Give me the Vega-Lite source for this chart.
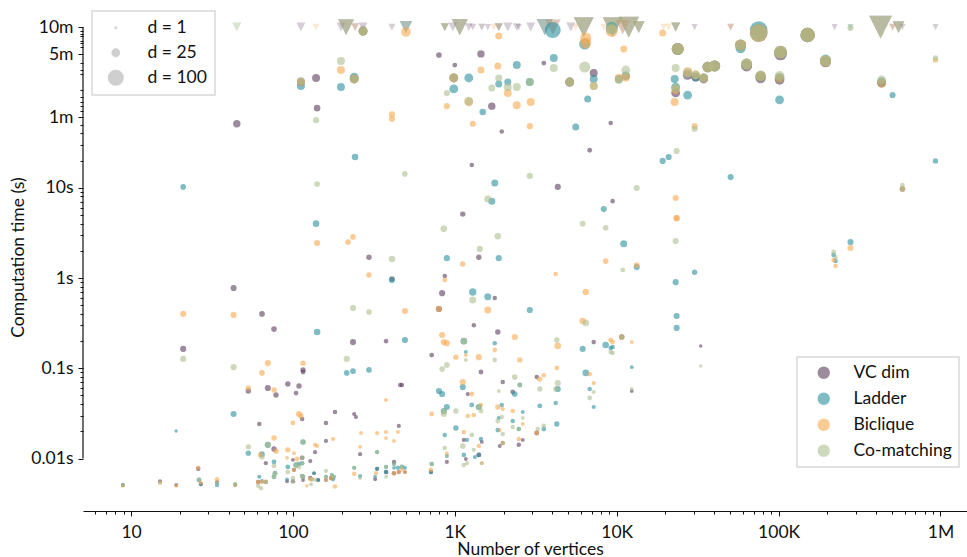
{"$schema":"https://vega.github.io/schema/vega-lite/v6.json","autosize":{"type":"none"},"padding":{"left":83,"top":8,"right":0,"bottom":46},"width":884,"height":503,"background":"white","view":{"stroke":null},"config":{"font":"Lato","axis":{"labelFont":"Lato","titleFont":"Lato","labelFontSize":17.5,"titleFontSize":17.5,"labelColor":"#111","titleColor":"#111","titleFontWeight":"normal","grid":false,"domainColor":"#111","tickColor":"#111","domainWidth":1.2,"tickWidth":1},"legend":{"labelFont":"Lato","labelFontSize":17.5,"labelColor":"#111","strokeColor":"#d7d7d7","strokeWidth":1.5,"fillColor":"#ffffff"}},
"datasets":{"axisline":[{"n":5.05,"t":0.01,"t2":600}],
"timeouts":[
{"m":"VC dim","n":112,"t":600,"d":20},{"m":"VC dim","n":198,"t":600,"d":20},{"m":"VC dim","n":213,"t":600,"d":76},{"m":"VC dim","n":242,"t":600,"d":15},{"m":"VC dim","n":271,"t":600,"d":20},{"m":"VC dim","n":409,"t":600,"d":11},{"m":"VC dim","n":499,"t":600,"d":44},{"m":"VC dim","n":867,"t":600,"d":15},{"m":"VC dim","n":972,"t":600,"d":20},{"m":"VC dim","n":1073,"t":600,"d":79},{"m":"VC dim","n":1220,"t":600,"d":15},{"m":"VC dim","n":1291,"t":600,"d":11},{"m":"VC dim","n":1468,"t":600,"d":11},{"m":"VC dim","n":1598,"t":600,"d":8},{"m":"VC dim","n":1868,"t":600,"d":15},{"m":"VC dim","n":2124,"t":600,"d":20},{"m":"VC dim","n":2414,"t":600,"d":15},{"m":"VC dim","n":2483,"t":600,"d":8},{"m":"VC dim","n":2945,"t":600,"d":20},{"m":"VC dim","n":3594,"t":600,"d":79},{"m":"VC dim","n":4027,"t":600,"d":69},{"m":"VC dim","n":5200,"t":600,"d":20},{"m":"VC dim","n":6255,"t":600,"d":123},{"m":"VC dim","n":9440,"t":600,"d":123},{"m":"VC dim","n":10900,"t":600,"d":60},{"m":"VC dim","n":11860,"t":600,"d":136},{"m":"VC dim","n":13680,"t":600,"d":37},{"m":"VC dim","n":23130,"t":600,"d":20},{"m":"VC dim","n":30290,"t":600,"d":8},{"m":"VC dim","n":50550,"t":600,"d":11},{"m":"VC dim","n":221800,"t":600,"d":8},{"m":"VC dim","n":426600,"t":600,"d":163},{"m":"VC dim","n":505800,"t":600,"d":11},{"m":"VC dim","n":550800,"t":600,"d":37},{"m":"VC dim","n":582100,"t":600,"d":8},{"m":"VC dim","n":931100,"t":600,"d":8},
{"m":"Ladder","n":213,"t":600,"d":76},{"m":"Ladder","n":499,"t":600,"d":44},{"m":"Ladder","n":867,"t":600,"d":15},{"m":"Ladder","n":1073,"t":600,"d":79},{"m":"Ladder","n":1868,"t":600,"d":15},{"m":"Ladder","n":3594,"t":600,"d":79},{"m":"Ladder","n":6255,"t":600,"d":123},{"m":"Ladder","n":9440,"t":600,"d":123},{"m":"Ladder","n":11860,"t":600,"d":136},{"m":"Ladder","n":13680,"t":600,"d":37},{"m":"Ladder","n":23130,"t":600,"d":20},{"m":"Ladder","n":278000,"t":600,"d":8},{"m":"Ladder","n":426600,"t":600,"d":163},{"m":"Ladder","n":550800,"t":600,"d":37},
{"m":"Biclique","n":139,"t":600,"d":11},{"m":"Biclique","n":213,"t":600,"d":76},{"m":"Biclique","n":242,"t":600,"d":15},{"m":"Biclique","n":867,"t":600,"d":15},{"m":"Biclique","n":1073,"t":600,"d":79},{"m":"Biclique","n":1740,"t":600,"d":11},{"m":"Biclique","n":1868,"t":600,"d":15},{"m":"Biclique","n":4027,"t":600,"d":69},{"m":"Biclique","n":5585,"t":600,"d":11},{"m":"Biclique","n":6255,"t":600,"d":123},{"m":"Biclique","n":8320,"t":600,"d":11},{"m":"Biclique","n":9440,"t":600,"d":123},{"m":"Biclique","n":10900,"t":600,"d":60},{"m":"Biclique","n":11860,"t":600,"d":136},{"m":"Biclique","n":13680,"t":600,"d":37},{"m":"Biclique","n":19500,"t":600,"d":11},{"m":"Biclique","n":20940,"t":600,"d":11},{"m":"Biclique","n":23130,"t":600,"d":20},{"m":"Biclique","n":50550,"t":600,"d":11},{"m":"Biclique","n":426600,"t":600,"d":163},{"m":"Biclique","n":505800,"t":600,"d":11},{"m":"Biclique","n":550800,"t":600,"d":37},
{"m":"Co-matching","n":45,"t":600,"d":20},{"m":"Co-matching","n":45,"t":600,"d":20},{"m":"Co-matching","n":213,"t":600,"d":76},{"m":"Co-matching","n":499,"t":600,"d":44},{"m":"Co-matching","n":867,"t":600,"d":15},{"m":"Co-matching","n":1073,"t":600,"d":79},{"m":"Co-matching","n":1468,"t":600,"d":11},{"m":"Co-matching","n":3594,"t":600,"d":79},{"m":"Co-matching","n":6255,"t":600,"d":123},{"m":"Co-matching","n":9440,"t":600,"d":123},{"m":"Co-matching","n":11860,"t":600,"d":136},{"m":"Co-matching","n":13680,"t":600,"d":37},{"m":"Co-matching","n":23130,"t":600,"d":20},{"m":"Co-matching","n":278000,"t":600,"d":8},{"m":"Co-matching","n":426600,"t":600,"d":163},{"m":"Co-matching","n":550800,"t":600,"d":37}
],
"finished":[
{"m":"VC dim","n":45,"t":51,"d":17},{"m":"VC dim","n":139,"t":164,"d":20},{"m":"VC dim","n":141,"t":76,"d":13},{"m":"VC dim","n":798,"t":295,"d":9},{"m":"VC dim","n":1000,"t":228,"d":6},{"m":"VC dim","n":1450,"t":303,"d":17},{"m":"VC dim","n":1273,"t":17.8,"d":5},{"m":"VC dim","n":1120,"t":5.1,"d":8},{"m":"VC dim","n":295,"t":1.7,"d":8},{"m":"VC dim","n":1407,"t":1.7,"d":8},{"m":"VC dim","n":867,"t":1.05,"d":5},{"m":"VC dim","n":409,"t":0.975,"d":8},{"m":"VC dim","n":1692,"t":80,"d":17},{"m":"VC dim","n":1950,"t":42,"d":5},{"m":"VC dim","n":3545,"t":240,"d":6},{"m":"VC dim","n":9180,"t":52,"d":5},{"m":"VC dim","n":7210,"t":186,"d":20},{"m":"VC dim","n":6810,"t":26,"d":6},{"m":"VC dim","n":4325,"t":10.2,"d":11},{"m":"VC dim","n":9440,"t":7.1,"d":5},{"m":"VC dim","n":1843,"t":0.252,"d":8},{"m":"VC dim","n":1765,"t":0.6,"d":5},{"m":"VC dim","n":835,"t":0.68,"d":11},{"m":"VC dim","n":798,"t":0.454,"d":11},{"m":"VC dim","n":1310,"t":0.3,"d":5},{"m":"VC dim","n":1450,"t":0.091,"d":6},{"m":"VC dim","n":720,"t":0.14,"d":6},{"m":"VC dim","n":3206,"t":0.08,"d":5},{"m":"VC dim","n":1978,"t":0.0705,"d":5},{"m":"VC dim","n":1203,"t":0.0519,"d":4},{"m":"VC dim","n":2280,"t":0.0547,"d":6},{"m":"VC dim","n":7210,"t":0.195,"d":5},{"m":"VC dim","n":12390,"t":0.056,"d":3},{"m":"VC dim","n":33010,"t":0.177,"d":2},{"m":"VC dim","n":2628,"t":0.0161,"d":3},{"m":"VC dim","n":1895,"t":0.0138,"d":3},{"m":"VC dim","n":2483,"t":0.0142,"d":5},{"m":"VC dim","n":3206,"t":0.0192,"d":6},{"m":"VC dim","n":1137,"t":0.0161,"d":4},{"m":"VC dim","n":1468,"t":0.0153,"d":3},{"m":"VC dim","n":893,"t":0.0092,"d":4},{"m":"VC dim","n":1170,"t":0.0099,"d":3},{"m":"VC dim","n":1407,"t":0.011,"d":6},{"m":"VC dim","n":712,"t":0.0071,"d":4},{"m":"VC dim","n":43,"t":0.775,"d":11},{"m":"VC dim","n":64.4,"t":0.4,"d":9},{"m":"VC dim","n":76.4,"t":0.272,"d":9},{"m":"VC dim","n":21,"t":0.164,"d":11},{"m":"VC dim","n":235,"t":0.195,"d":11},{"m":"VC dim","n":376,"t":0.2,"d":5},{"m":"VC dim","n":471,"t":0.0653,"d":5},{"m":"VC dim","n":460,"t":0.0653,"d":5},{"m":"VC dim","n":115.5,"t":0.096,"d":8},{"m":"VC dim","n":115.5,"t":0.091,"d":6},{"m":"VC dim","n":93,"t":0.067,"d":8},{"m":"VC dim","n":109,"t":0.0637,"d":8},{"m":"VC dim","n":104.5,"t":0.0532,"d":6},{"m":"VC dim","n":53,"t":0.056,"d":8},{"m":"VC dim","n":70,"t":0.0605,"d":11},{"m":"VC dim","n":78.6,"t":0.0506,"d":8},{"m":"VC dim","n":114,"t":0.0275,"d":5},{"m":"VC dim","n":62,"t":0.0242,"d":5},{"m":"VC dim","n":160,"t":0.0248,"d":5},{"m":"VC dim","n":182,"t":0.0328,"d":5},{"m":"VC dim","n":239,"t":0.0312,"d":4},{"m":"VC dim","n":245,"t":0.0289,"d":4},{"m":"VC dim","n":451,"t":0.023,"d":4},{"m":"VC dim","n":160,"t":0.0157,"d":4},{"m":"VC dim","n":76.4,"t":0.0128,"d":8},{"m":"VC dim","n":137,"t":0.0118,"d":4},{"m":"VC dim","n":260,"t":0.0112,"d":4},{"m":"VC dim","n":100,"t":0.0097,"d":3},{"m":"VC dim","n":114,"t":0.0102,"d":6},{"m":"VC dim","n":128,"t":0.0094,"d":4},{"m":"VC dim","n":68,"t":0.0089,"d":4},{"m":"VC dim","n":101.5,"t":0.0075,"d":4},{"m":"VC dim","n":135,"t":0.0069,"d":2},{"m":"VC dim","n":8.9,"t":0.0051,"d":3},{"m":"VC dim","n":15.1,"t":0.0056,"d":4},{"m":"VC dim","n":19,"t":0.0051,"d":3},{"m":"VC dim","n":26,"t":0.0077,"d":5},{"m":"VC dim","n":27,"t":0.0052,"d":3},{"m":"VC dim","n":34,"t":0.0055,"d":4},{"m":"VC dim","n":44,"t":0.0051,"d":3},{"m":"VC dim","n":61,"t":0.0055,"d":5},{"m":"VC dim","n":68,"t":0.0055,"d":4},{"m":"VC dim","n":92,"t":0.0056,"d":3},{"m":"VC dim","n":100,"t":0.0056,"d":5},{"m":"VC dim","n":115.5,"t":0.0058,"d":3},{"m":"VC dim","n":128,"t":0.0061,"d":5},{"m":"VC dim","n":143,"t":0.0058,"d":4},{"m":"VC dim","n":160,"t":0.0058,"d":3},{"m":"VC dim","n":172,"t":0.0061,"d":5},{"m":"VC dim","n":331,"t":0.0077,"d":4},{"m":"VC dim","n":322,"t":0.0059,"d":3},{"m":"VC dim","n":376,"t":0.0071,"d":5},{"m":"VC dim","n":421,"t":0.0092,"d":5},{"m":"VC dim","n":421,"t":0.0069,"d":5},{"m":"VC dim","n":451,"t":0.0071,"d":4},{"m":"VC dim","n":492,"t":0.0071,"d":3},
{"m":"VC dim","n":112,"t":148,"d":20},{"m":"VC dim","n":239,"t":160,"d":25},{"m":"VC dim","n":271,"t":543,"d":25},{"m":"VC dim","n":985,"t":164,"d":25},{"m":"VC dim","n":5125,"t":148,"d":25},{"m":"VC dim","n":23800,"t":344,"d":52},{"m":"VC dim","n":27420,"t":177,"d":31},{"m":"VC dim","n":30760,"t":168,"d":25},{"m":"VC dim","n":34450,"t":160,"d":25},{"m":"VC dim","n":36480,"t":217,"d":37},{"m":"VC dim","n":40270,"t":223,"d":44},{"m":"VC dim","n":58250,"t":380,"d":44},{"m":"VC dim","n":63440,"t":223,"d":44},{"m":"VC dim","n":75330,"t":517,"d":123},{"m":"VC dim","n":77430,"t":164,"d":37},{"m":"VC dim","n":102800,"t":303,"d":60},{"m":"VC dim","n":101400,"t":156,"d":31},{"m":"VC dim","n":151100,"t":491,"d":79},{"m":"VC dim","n":195000,"t":248,"d":44},{"m":"VC dim","n":432500,"t":144,"d":25},{"m":"VC dim","n":10740,"t":0.222,"d":8},{"m":"VC dim","n":582100,"t":9.7,"d":8},{"m":"VC dim","n":23130,"t":112,"d":25},
{"m":"Ladder","n":21,"t":10.2,"d":9},{"m":"Ladder","n":112,"t":134,"d":20},{"m":"Ladder","n":198,"t":130,"d":20},{"m":"Ladder","n":239,"t":168,"d":25},{"m":"Ladder","n":242,"t":21.9,"d":13},{"m":"Ladder","n":139,"t":4,"d":13},{"m":"Ladder","n":893,"t":1.66,"d":11},{"m":"Ladder","n":409,"t":0.95,"d":11},{"m":"Ladder","n":1220,"t":164,"d":25},{"m":"Ladder","n":985,"t":124,"d":25},{"m":"Ladder","n":2414,"t":228,"d":20},{"m":"Ladder","n":1868,"t":141,"d":15},{"m":"Ladder","n":2124,"t":148,"d":15},{"m":"Ladder","n":2904,"t":148,"d":20},{"m":"Ladder","n":1487,"t":69,"d":13},{"m":"Ladder","n":4085,"t":273,"d":20},{"m":"Ladder","n":4027,"t":557,"d":100},{"m":"Ladder","n":5585,"t":47,"d":15},{"m":"Ladder","n":6620,"t":96,"d":15},{"m":"Ladder","n":6345,"t":390,"d":44},{"m":"Ladder","n":7210,"t":160,"d":20},{"m":"Ladder","n":9310,"t":587,"d":52},{"m":"Ladder","n":10300,"t":160,"d":20},{"m":"Ladder","n":11370,"t":173,"d":25},{"m":"Ladder","n":22800,"t":160,"d":20},{"m":"Ladder","n":23130,"t":130,"d":25},{"m":"Ladder","n":27420,"t":106,"d":25},{"m":"Ladder","n":30760,"t":168,"d":25},{"m":"Ladder","n":58250,"t":352,"d":37},{"m":"Ladder","n":75330,"t":557,"d":123},{"m":"Ladder","n":101400,"t":94,"d":25},{"m":"Ladder","n":505800,"t":106,"d":11},{"m":"Ladder","n":931100,"t":19.8,"d":8},{"m":"Ladder","n":20940,"t":21.9,"d":11},{"m":"Ladder","n":19230,"t":19.8,"d":11},{"m":"Ladder","n":50550,"t":13.1,"d":11},{"m":"Ladder","n":1765,"t":11.3,"d":15},{"m":"Ladder","n":1692,"t":7.1,"d":15},{"m":"Ladder","n":8320,"t":5.8,"d":11},{"m":"Ladder","n":11050,"t":2.4,"d":15},{"m":"Ladder","n":1868,"t":1.66,"d":11},{"m":"Ladder","n":13290,"t":1.32,"d":11},{"m":"Ladder","n":30290,"t":1.16,"d":8},{"m":"Ladder","n":23130,"t":0.9,"d":11},{"m":"Ladder","n":23450,"t":0.38,"d":11},{"m":"Ladder","n":23450,"t":0.28,"d":11},{"m":"Ladder","n":278000,"t":2.5,"d":11},{"m":"Ladder","n":218800,"t":1.8,"d":6},{"m":"Ladder","n":224900,"t":1.54,"d":5},{"m":"Ladder","n":1598,"t":0.62,"d":15},{"m":"Ladder","n":2904,"t":0.442,"d":11},{"m":"Ladder","n":1291,"t":0.7,"d":17},{"m":"Ladder","n":1137,"t":0.2,"d":13},{"m":"Ladder","n":1765,"t":0.19,"d":5},{"m":"Ladder","n":1170,"t":0.152,"d":3},{"m":"Ladder","n":1120,"t":0.062,"d":11},{"m":"Ladder","n":798,"t":0.056,"d":11},{"m":"Ladder","n":835,"t":0.0519,"d":11},{"m":"Ladder","n":141,"t":0.252,"d":13},{"m":"Ladder","n":492,"t":0.206,"d":11},{"m":"Ladder","n":215,"t":0.089,"d":9},{"m":"Ladder","n":235,"t":0.093,"d":9},{"m":"Ladder","n":295,"t":0.096,"d":9},{"m":"Ladder","n":43,"t":0.0312,"d":11},{"m":"Ladder","n":19,"t":0.0202,"d":2},{"m":"Ladder","n":8550,"t":0.181,"d":13},{"m":"Ladder","n":6166,"t":0.164,"d":11},{"m":"Ladder","n":9440,"t":0.172,"d":5},{"m":"Ladder","n":9180,"t":0.168,"d":5},{"m":"Ladder","n":12390,"t":0.103,"d":3},{"m":"Ladder","n":6440,"t":0.089,"d":13},{"m":"Ladder","n":2345,"t":0.0519,"d":9},{"m":"Ladder","n":2520,"t":0.0653,"d":6},{"m":"Ladder","n":4325,"t":0.059,"d":11},{"m":"Ladder","n":6810,"t":0.059,"d":5},{"m":"Ladder","n":4200,"t":0.0413,"d":5},{"m":"Ladder","n":3347,"t":0.0383,"d":6},{"m":"Ladder","n":1950,"t":0.0393,"d":5},{"m":"Ladder","n":7210,"t":0.0373,"d":4},{"m":"Ladder","n":2628,"t":0.0328,"d":3},{"m":"Ladder","n":1868,"t":0.0282,"d":3},{"m":"Ladder","n":2280,"t":0.0261,"d":5},{"m":"Ladder","n":4265,"t":0.0242,"d":8},{"m":"Ladder","n":2483,"t":0.0213,"d":5},{"m":"Ladder","n":3545,"t":0.0213,"d":6},{"m":"Ladder","n":1843,"t":0.0207,"d":6},{"m":"Ladder","n":1978,"t":0.0149,"d":5},{"m":"Ladder","n":893,"t":0.0373,"d":11},{"m":"Ladder","n":855,"t":0.0337,"d":11},{"m":"Ladder","n":1273,"t":0.0393,"d":6},{"m":"Ladder","n":1407,"t":0.0373,"d":11},{"m":"Ladder","n":1015,"t":0.0218,"d":8},{"m":"Ladder","n":867,"t":0.0183,"d":5},{"m":"Ladder","n":1190,"t":0.0161,"d":4},{"m":"Ladder","n":1450,"t":0.0165,"d":5},{"m":"Ladder","n":1137,"t":0.011,"d":5},{"m":"Ladder","n":1407,"t":0.011,"d":5},{"m":"Ladder","n":1330,"t":0.0104,"d":4},{"m":"Ladder","n":893,"t":0.0107,"d":3},{"m":"Ladder","n":720,"t":0.0087,"d":5},{"m":"Ladder","n":712,"t":0.0071,"d":5},{"m":"Ladder","n":53,"t":0.0115,"d":8},{"m":"Ladder","n":70,"t":0.0142,"d":11},{"m":"Ladder","n":64.4,"t":0.0112,"d":9},{"m":"Ladder","n":115.5,"t":0.0153,"d":8},{"m":"Ladder","n":331,"t":0.0118,"d":4},{"m":"Ladder","n":76.4,"t":0.0092,"d":6},{"m":"Ladder","n":93,"t":0.0081,"d":6},{"m":"Ladder","n":104.5,"t":0.0085,"d":8},{"m":"Ladder","n":109,"t":0.0087,"d":5},{"m":"Ladder","n":114,"t":0.0089,"d":5},{"m":"Ladder","n":135,"t":0.0069,"d":3},{"m":"Ladder","n":8.9,"t":0.0051,"d":3},{"m":"Ladder","n":26.3,"t":0.0058,"d":6},{"m":"Ladder","n":27,"t":0.0052,"d":3},{"m":"Ladder","n":34,"t":0.0051,"d":5},{"m":"Ladder","n":44,"t":0.0052,"d":3},{"m":"Ladder","n":62,"t":0.0063,"d":4},{"m":"Ladder","n":64.4,"t":0.0056,"d":5},{"m":"Ladder","n":77.5,"t":0.0069,"d":6},{"m":"Ladder","n":76.4,"t":0.0063,"d":6},{"m":"Ladder","n":92,"t":0.0059,"d":3},{"m":"Ladder","n":114,"t":0.0064,"d":5},{"m":"Ladder","n":115.5,"t":0.0063,"d":5},{"m":"Ladder","n":143,"t":0.0058,"d":4},{"m":"Ladder","n":160,"t":0.0063,"d":4},{"m":"Ladder","n":177,"t":0.0059,"d":4},{"m":"Ladder","n":179,"t":0.0063,"d":4},{"m":"Ladder","n":174,"t":0.0066,"d":3},{"m":"Ladder","n":239,"t":0.0079,"d":4},{"m":"Ladder","n":260,"t":0.0064,"d":4},{"m":"Ladder","n":331,"t":0.0077,"d":4},{"m":"Ladder","n":322,"t":0.0063,"d":3},{"m":"Ladder","n":376,"t":0.0081,"d":4},{"m":"Ladder","n":376,"t":0.0071,"d":5},{"m":"Ladder","n":421,"t":0.0087,"d":4},{"m":"Ladder","n":421,"t":0.0079,"d":3},{"m":"Ladder","n":445,"t":0.0079,"d":5},{"m":"Ladder","n":471,"t":0.0081,"d":5},{"m":"Ladder","n":492,"t":0.0079,"d":4},
{"m":"Ladder","n":271,"t":543,"d":25},{"m":"Ladder","n":5125,"t":148,"d":25},{"m":"Ladder","n":23800,"t":344,"d":52},{"m":"Ladder","n":36480,"t":217,"d":37},{"m":"Ladder","n":40270,"t":223,"d":44},{"m":"Ladder","n":34450,"t":164,"d":25},{"m":"Ladder","n":63440,"t":234,"d":44},{"m":"Ladder","n":77430,"t":173,"d":37},{"m":"Ladder","n":102800,"t":318,"d":60},{"m":"Ladder","n":101400,"t":164,"d":31},{"m":"Ladder","n":151100,"t":491,"d":79},{"m":"Ladder","n":195000,"t":259,"d":44},{"m":"Ladder","n":432500,"t":148,"d":25},
{"m":"Biclique","n":112,"t":148,"d":20},{"m":"Biclique","n":198,"t":201,"d":20},{"m":"Biclique","n":239,"t":160,"d":25},{"m":"Biclique","n":271,"t":543,"d":25},{"m":"Biclique","n":499,"t":530,"d":31},{"m":"Biclique","n":409,"t":65,"d":11},{"m":"Biclique","n":409,"t":58,"d":11},{"m":"Biclique","n":141,"t":2.44,"d":11},{"m":"Biclique","n":219,"t":2.5,"d":9},{"m":"Biclique","n":235,"t":2.85,"d":9},{"m":"Biclique","n":1120,"t":1.43,"d":8},{"m":"Biclique","n":295,"t":1.08,"d":8},{"m":"Biclique","n":1868,"t":479,"d":15},{"m":"Biclique","n":1843,"t":223,"d":15},{"m":"Biclique","n":1450,"t":201,"d":15},{"m":"Biclique","n":893,"t":80,"d":11},{"m":"Biclique","n":1220,"t":89,"d":25},{"m":"Biclique","n":2124,"t":112,"d":20},{"m":"Biclique","n":2414,"t":82,"d":20},{"m":"Biclique","n":2945,"t":89,"d":20},{"m":"Biclique","n":1291,"t":51,"d":11},{"m":"Biclique","n":2904,"t":48,"d":11},{"m":"Biclique","n":6440,"t":455,"d":44},{"m":"Biclique","n":6440,"t":400,"d":44},{"m":"Biclique","n":7210,"t":134,"d":20},{"m":"Biclique","n":985,"t":164,"d":25},{"m":"Biclique","n":9310,"t":543,"d":52},{"m":"Biclique","n":10300,"t":164,"d":20},{"m":"Biclique","n":11050,"t":344,"d":15},{"m":"Biclique","n":11370,"t":168,"d":25},{"m":"Biclique","n":19230,"t":517,"d":15},{"m":"Biclique","n":22800,"t":89,"d":20},{"m":"Biclique","n":23130,"t":121,"d":25},{"m":"Biclique","n":30290,"t":48,"d":11},{"m":"Biclique","n":931100,"t":259,"d":8},{"m":"Biclique","n":23130,"t":7.7,"d":11},{"m":"Biclique","n":23450,"t":4.6,"d":11},{"m":"Biclique","n":23450,"t":4.6,"d":11},{"m":"Biclique","n":8550,"t":1.54,"d":9},{"m":"Biclique","n":13290,"t":1.39,"d":9},{"m":"Biclique","n":4200,"t":1.11,"d":5},{"m":"Biclique","n":278000,"t":2.15,"d":11},{"m":"Biclique","n":218800,"t":1.58,"d":6},{"m":"Biclique","n":224900,"t":1.36,"d":5},{"m":"Biclique","n":582100,"t":9.7,"d":8},{"m":"Biclique","n":867,"t":0.95,"d":6},{"m":"Biclique","n":1598,"t":0.442,"d":15},{"m":"Biclique","n":6440,"t":0.7,"d":13},{"m":"Biclique","n":6166,"t":0.334,"d":13},{"m":"Biclique","n":2345,"t":0.222,"d":11},{"m":"Biclique","n":4325,"t":0.177,"d":13},{"m":"Biclique","n":9180,"t":0.206,"d":6},{"m":"Biclique","n":9440,"t":0.195,"d":6},{"m":"Biclique","n":12390,"t":0.195,"d":3},{"m":"Biclique","n":10740,"t":0.222,"d":8},{"m":"Biclique","n":835,"t":0.234,"d":11},{"m":"Biclique","n":855,"t":0.195,"d":11},{"m":"Biclique","n":893,"t":0.19,"d":11},{"m":"Biclique","n":1170,"t":0.14,"d":3},{"m":"Biclique","n":1765,"t":0.16,"d":5},{"m":"Biclique","n":1407,"t":0.133,"d":11},{"m":"Biclique","n":1015,"t":0.133,"d":8},{"m":"Biclique","n":2520,"t":0.124,"d":8},{"m":"Biclique","n":4265,"t":0.101,"d":6},{"m":"Biclique","n":3347,"t":0.076,"d":8},{"m":"Biclique","n":3545,"t":0.084,"d":5},{"m":"Biclique","n":6810,"t":0.0865,"d":5},{"m":"Biclique","n":7210,"t":0.0687,"d":4},{"m":"Biclique","n":1120,"t":0.0705,"d":11},{"m":"Biclique","n":1273,"t":0.0519,"d":6},{"m":"Biclique","n":1843,"t":0.0373,"d":8},{"m":"Biclique","n":1978,"t":0.0354,"d":4},{"m":"Biclique","n":2280,"t":0.0337,"d":5},{"m":"Biclique","n":2628,"t":0.0242,"d":3},{"m":"Biclique","n":1895,"t":0.0207,"d":3},{"m":"Biclique","n":3206,"t":0.0192,"d":6},{"m":"Biclique","n":2483,"t":0.0165,"d":5},{"m":"Biclique","n":1978,"t":0.0149,"d":5},{"m":"Biclique","n":720,"t":0.0312,"d":6},{"m":"Biclique","n":1203,"t":0.0296,"d":5},{"m":"Biclique","n":1310,"t":0.0304,"d":5},{"m":"Biclique","n":1450,"t":0.0393,"d":5},{"m":"Biclique","n":1137,"t":0.0197,"d":5},{"m":"Biclique","n":1407,"t":0.0138,"d":5},{"m":"Biclique","n":893,"t":0.0115,"d":3},{"m":"Biclique","n":1468,"t":0.0089,"d":3},{"m":"Biclique","n":712,"t":0.0075,"d":6},{"m":"Biclique","n":798,"t":0.454,"d":11},{"m":"Biclique","n":21,"t":0.4,"d":11},{"m":"Biclique","n":43,"t":0.39,"d":11},{"m":"Biclique","n":492,"t":0.43,"d":11},{"m":"Biclique","n":70,"t":0.114,"d":11},{"m":"Biclique","n":64.4,"t":0.089,"d":9},{"m":"Biclique","n":115.5,"t":0.114,"d":8},{"m":"Biclique","n":53,"t":0.0605,"d":8},{"m":"Biclique","n":76.4,"t":0.0575,"d":8},{"m":"Biclique","n":109,"t":0.0312,"d":11},{"m":"Biclique","n":112,"t":0.0296,"d":8},{"m":"Biclique","n":100,"t":0.0248,"d":6},{"m":"Biclique","n":376,"t":0.0446,"d":3},{"m":"Biclique","n":331,"t":0.0192,"d":4},{"m":"Biclique","n":376,"t":0.0197,"d":4},{"m":"Biclique","n":445,"t":0.0197,"d":3},{"m":"Biclique","n":263,"t":0.0192,"d":3},{"m":"Biclique","n":177,"t":0.0165,"d":4},{"m":"Biclique","n":376,"t":0.0169,"d":3},{"m":"Biclique","n":421,"t":0.0157,"d":3},{"m":"Biclique","n":76.4,"t":0.0169,"d":8},{"m":"Biclique","n":63,"t":0.011,"d":8},{"m":"Biclique","n":78.6,"t":0.0121,"d":8},{"m":"Biclique","n":93,"t":0.0125,"d":8},{"m":"Biclique","n":137,"t":0.0142,"d":4},{"m":"Biclique","n":141,"t":0.0138,"d":4},{"m":"Biclique","n":101.5,"t":0.0115,"d":3},{"m":"Biclique","n":260,"t":0.0135,"d":3},{"m":"Biclique","n":92,"t":0.0102,"d":3},{"m":"Biclique","n":106,"t":0.0099,"d":6},{"m":"Biclique","n":101.5,"t":0.0075,"d":4},{"m":"Biclique","n":8.9,"t":0.005,"d":3},{"m":"Biclique","n":15.1,"t":0.0054,"d":3},{"m":"Biclique","n":19,"t":0.005,"d":3},{"m":"Biclique","n":26,"t":0.0079,"d":5},{"m":"Biclique","n":27,"t":0.0054,"d":3},{"m":"Biclique","n":34,"t":0.0059,"d":5},{"m":"Biclique","n":44,"t":0.0051,"d":3},{"m":"Biclique","n":61,"t":0.0055,"d":5},{"m":"Biclique","n":64.4,"t":0.0055,"d":4},{"m":"Biclique","n":68,"t":0.0056,"d":4},{"m":"Biclique","n":122,"t":0.005,"d":2},{"m":"Biclique","n":128,"t":0.0059,"d":5},{"m":"Biclique","n":131,"t":0.0059,"d":4},{"m":"Biclique","n":160,"t":0.0058,"d":3},{"m":"Biclique","n":172,"t":0.0061,"d":5},{"m":"Biclique","n":182,"t":0.0049,"d":5},{"m":"Biclique","n":239,"t":0.0068,"d":5},{"m":"Biclique","n":326,"t":0.0069,"d":4},{"m":"Biclique","n":421,"t":0.0069,"d":5},{"m":"Biclique","n":451,"t":0.0071,"d":4},{"m":"Biclique","n":471,"t":0.0075,"d":3},{"m":"Biclique","n":492,"t":0.0071,"d":3},
{"m":"Biclique","n":5125,"t":148,"d":25},{"m":"Biclique","n":23800,"t":344,"d":52},{"m":"Biclique","n":27420,"t":191,"d":31},{"m":"Biclique","n":30760,"t":177,"d":25},{"m":"Biclique","n":34450,"t":164,"d":25},{"m":"Biclique","n":36480,"t":217,"d":37},{"m":"Biclique","n":40270,"t":223,"d":44},{"m":"Biclique","n":58250,"t":380,"d":44},{"m":"Biclique","n":63440,"t":234,"d":44},{"m":"Biclique","n":75330,"t":517,"d":123},{"m":"Biclique","n":77430,"t":173,"d":37},{"m":"Biclique","n":102800,"t":318,"d":60},{"m":"Biclique","n":101400,"t":164,"d":31},{"m":"Biclique","n":151100,"t":491,"d":79},{"m":"Biclique","n":195000,"t":253,"d":44},{"m":"Biclique","n":432500,"t":144,"d":25},
{"m":"Co-matching","n":112,"t":152,"d":20},{"m":"Co-matching","n":198,"t":253,"d":20},{"m":"Co-matching","n":239,"t":160,"d":25},{"m":"Co-matching","n":271,"t":543,"d":25},{"m":"Co-matching","n":139,"t":56,"d":11},{"m":"Co-matching","n":491,"t":14.2,"d":9},{"m":"Co-matching","n":141,"t":11,"d":9},{"m":"Co-matching","n":409,"t":1.62,"d":13},{"m":"Co-matching","n":855,"t":3.5,"d":13},{"m":"Co-matching","n":1427,"t":2.1,"d":11},{"m":"Co-matching","n":985,"t":164,"d":25},{"m":"Co-matching","n":893,"t":112,"d":11},{"m":"Co-matching","n":1220,"t":91,"d":25},{"m":"Co-matching","n":1692,"t":127,"d":15},{"m":"Co-matching","n":1868,"t":164,"d":15},{"m":"Co-matching","n":2124,"t":130,"d":20},{"m":"Co-matching","n":2414,"t":130,"d":20},{"m":"Co-matching","n":2904,"t":148,"d":20},{"m":"Co-matching","n":4085,"t":212,"d":20},{"m":"Co-matching","n":6345,"t":217,"d":44},{"m":"Co-matching","n":5125,"t":148,"d":25},{"m":"Co-matching","n":7210,"t":134,"d":20},{"m":"Co-matching","n":9310,"t":570,"d":52},{"m":"Co-matching","n":10300,"t":156,"d":20},{"m":"Co-matching","n":11370,"t":201,"d":25},{"m":"Co-matching","n":23130,"t":212,"d":20},{"m":"Co-matching","n":23130,"t":127,"d":25},{"m":"Co-matching","n":30290,"t":45,"d":11},{"m":"Co-matching","n":278000,"t":587,"d":11},{"m":"Co-matching","n":931100,"t":273,"d":8},{"m":"Co-matching","n":23450,"t":25.5,"d":11},{"m":"Co-matching","n":2904,"t":13.5,"d":11},{"m":"Co-matching","n":13290,"t":9.9,"d":11},{"m":"Co-matching","n":1598,"t":7.5,"d":15},{"m":"Co-matching","n":6166,"t":4,"d":9},{"m":"Co-matching","n":8550,"t":3.6,"d":9},{"m":"Co-matching","n":1843,"t":2.9,"d":13},{"m":"Co-matching","n":23130,"t":2.57,"d":11},{"m":"Co-matching","n":10900,"t":1.23,"d":6},{"m":"Co-matching","n":218800,"t":1.94,"d":6},{"m":"Co-matching","n":224900,"t":1.7,"d":5},{"m":"Co-matching","n":582100,"t":10.7,"d":6},{"m":"Co-matching","n":582100,"t":9.7,"d":8},{"m":"Co-matching","n":1291,"t":0.57,"d":15},{"m":"Co-matching","n":6440,"t":0.318,"d":13},{"m":"Co-matching","n":4265,"t":0.206,"d":8},{"m":"Co-matching","n":10740,"t":0.222,"d":8},{"m":"Co-matching","n":9180,"t":0.152,"d":5},{"m":"Co-matching","n":9440,"t":0.148,"d":5},{"m":"Co-matching","n":1137,"t":0.2,"d":13},{"m":"Co-matching","n":1765,"t":0.124,"d":5},{"m":"Co-matching","n":1170,"t":0.124,"d":3},{"m":"Co-matching","n":893,"t":0.109,"d":9},{"m":"Co-matching","n":835,"t":0.098,"d":9},{"m":"Co-matching","n":2345,"t":0.08,"d":9},{"m":"Co-matching","n":12390,"t":0.059,"d":3},{"m":"Co-matching","n":4325,"t":0.0687,"d":11},{"m":"Co-matching","n":2520,"t":0.0653,"d":6},{"m":"Co-matching","n":4200,"t":0.059,"d":8},{"m":"Co-matching","n":3347,"t":0.059,"d":8},{"m":"Co-matching","n":7210,"t":0.0547,"d":4},{"m":"Co-matching","n":1868,"t":0.056,"d":3},{"m":"Co-matching","n":6810,"t":0.0469,"d":6},{"m":"Co-matching","n":33010,"t":0.106,"d":2},{"m":"Co-matching","n":235,"t":0.465,"d":11},{"m":"Co-matching","n":295,"t":0.42,"d":9},{"m":"Co-matching","n":21,"t":0.127,"d":11},{"m":"Co-matching","n":43,"t":0.103,"d":11},{"m":"Co-matching","n":215,"t":0.127,"d":11},{"m":"Co-matching","n":855,"t":0.0312,"d":11},{"m":"Co-matching","n":855,"t":0.0337,"d":11},{"m":"Co-matching","n":1015,"t":0.0337,"d":8},{"m":"Co-matching","n":1407,"t":0.0373,"d":11},{"m":"Co-matching","n":1450,"t":0.0337,"d":6},{"m":"Co-matching","n":2628,"t":0.0282,"d":3},{"m":"Co-matching","n":1950,"t":0.0289,"d":5},{"m":"Co-matching","n":1843,"t":0.0261,"d":6},{"m":"Co-matching","n":1273,"t":0.0183,"d":6},{"m":"Co-matching","n":3545,"t":0.023,"d":6},{"m":"Co-matching","n":3250,"t":0.0213,"d":5},{"m":"Co-matching","n":2280,"t":0.0224,"d":5},{"m":"Co-matching","n":2483,"t":0.0213,"d":5},{"m":"Co-matching","n":1978,"t":0.0187,"d":5},{"m":"Co-matching","n":1120,"t":0.0138,"d":9},{"m":"Co-matching","n":867,"t":0.0131,"d":5},{"m":"Co-matching","n":1310,"t":0.0125,"d":4},{"m":"Co-matching","n":893,"t":0.0107,"d":3},{"m":"Co-matching","n":1190,"t":0.0089,"d":4},{"m":"Co-matching","n":1137,"t":0.0085,"d":5},{"m":"Co-matching","n":1468,"t":0.0089,"d":3},{"m":"Co-matching","n":720,"t":0.0087,"d":5},{"m":"Co-matching","n":53,"t":0.0135,"d":8},{"m":"Co-matching","n":70,"t":0.0142,"d":11},{"m":"Co-matching","n":64.4,"t":0.0104,"d":8},{"m":"Co-matching","n":115.5,"t":0.0153,"d":8},{"m":"Co-matching","n":331,"t":0.0118,"d":4},{"m":"Co-matching","n":114,"t":0.0102,"d":6},{"m":"Co-matching","n":76.4,"t":0.0083,"d":6},{"m":"Co-matching","n":104.5,"t":0.0085,"d":8},{"m":"Co-matching","n":114,"t":0.0089,"d":5},{"m":"Co-matching","n":109,"t":0.0081,"d":6},{"m":"Co-matching","n":93,"t":0.0071,"d":6},{"m":"Co-matching","n":8.9,"t":0.0051,"d":3},{"m":"Co-matching","n":15.1,"t":0.0054,"d":3},{"m":"Co-matching","n":26.3,"t":0.0058,"d":6},{"m":"Co-matching","n":34,"t":0.0054,"d":4},{"m":"Co-matching","n":44,"t":0.0052,"d":3},{"m":"Co-matching","n":61,"t":0.005,"d":5},{"m":"Co-matching","n":63.5,"t":0.0047,"d":5},{"m":"Co-matching","n":68,"t":0.0055,"d":4},{"m":"Co-matching","n":77.5,"t":0.0069,"d":6},{"m":"Co-matching","n":76.4,"t":0.0063,"d":6},{"m":"Co-matching","n":100,"t":0.0061,"d":5},{"m":"Co-matching","n":100,"t":0.0056,"d":4},{"m":"Co-matching","n":114,"t":0.0064,"d":5},{"m":"Co-matching","n":115.5,"t":0.0063,"d":5},{"m":"Co-matching","n":129.5,"t":0.0052,"d":3},{"m":"Co-matching","n":131,"t":0.0059,"d":4},{"m":"Co-matching","n":137,"t":0.0058,"d":4},{"m":"Co-matching","n":160,"t":0.0073,"d":4},{"m":"Co-matching","n":160,"t":0.0063,"d":4},{"m":"Co-matching","n":174,"t":0.0066,"d":3},{"m":"Co-matching","n":179,"t":0.0063,"d":4},{"m":"Co-matching","n":239,"t":0.0079,"d":4},{"m":"Co-matching","n":260,"t":0.0061,"d":3},{"m":"Co-matching","n":376,"t":0.0081,"d":4},{"m":"Co-matching","n":376,"t":0.0063,"d":3},{"m":"Co-matching","n":421,"t":0.0087,"d":4},{"m":"Co-matching","n":471,"t":0.0081,"d":5},
{"m":"Co-matching","n":23800,"t":344,"d":52},{"m":"Co-matching","n":27420,"t":186,"d":31},{"m":"Co-matching","n":30760,"t":177,"d":25},{"m":"Co-matching","n":34450,"t":164,"d":25},{"m":"Co-matching","n":36480,"t":217,"d":37},{"m":"Co-matching","n":40270,"t":223,"d":44},{"m":"Co-matching","n":58250,"t":380,"d":44},{"m":"Co-matching","n":63440,"t":234,"d":44},{"m":"Co-matching","n":75330,"t":517,"d":123},{"m":"Co-matching","n":77430,"t":173,"d":37},{"m":"Co-matching","n":102800,"t":318,"d":60},{"m":"Co-matching","n":101400,"t":173,"d":31},{"m":"Co-matching","n":151100,"t":491,"d":79},{"m":"Co-matching","n":195000,"t":253,"d":44},{"m":"Co-matching","n":432500,"t":156,"d":25}
]},
"encoding":{
"x":{"field":"n","type":"quantitative","title":"Number of vertices","scale":{"type":"log","domain":[5.05,1458000],"nice":false,"clamp":false},"axis":{"values":[6,7,8,9,10,20,30,40,50,60,70,80,90,100,200,300,400,500,600,700,800,900,1000,2000,3000,4000,5000,6000,7000,8000,9000,10000,20000,30000,40000,50000,60000,70000,80000,90000,100000,200000,300000,400000,500000,600000,700000,800000,900000,1000000],"labelExpr":"datum.value==10?'10':datum.value==100?'100':datum.value==1000?'1K':datum.value==10000?'10K':datum.value==100000?'100K':datum.value==1000000?'1M':''","labelOverlap":false,"labelPadding":7,"labelFlush":false,"labelBound":false,"tickSize":{"condition":{"test":"datum.value==10||datum.value==100||datum.value==1000||datum.value==10000||datum.value==100000||datum.value==1000000","value":5},"value":3},"titleX":447,"titleY":38,"titleBaseline":"middle"}},
"y":{"field":"t","type":"quantitative","title":"Computation time (s)","scale":{"type":"log","domain":[0.00263,977],"nice":false,"clamp":false},"axis":{"domain":false,"values":[0.01,0.02,0.03,0.04,0.05,0.06,0.07,0.08,0.09,0.1,0.2,0.3,0.4,0.5,0.6,0.7,0.8,0.9,1,2,3,4,5,6,7,8,9,10,20,30,40,50,60,70,80,90,100,120,180,200,240,300,360,400,420,480,500,540,600],"labelExpr":"datum.value==600?'10m':datum.value==300?'5m':datum.value==60?'1m':datum.value==10?'10s':datum.value==1?'1s':datum.value==0.1?'0.1s':datum.value==0.01?'0.01s':''","labelOverlap":false,"labelPadding":5,"labelFlush":false,"labelBound":false,"tickSize":{"condition":{"test":"datum.value==600||datum.value==300||datum.value==60||datum.value==10||datum.value==1||datum.value==0.1||datum.value==0.01","value":5},"value":3},"titleX":-65,"titleY":249,"titleBaseline":"middle"}},
"color":{"field":"m","type":"nominal","scale":{"domain":["VC dim","Ladder","Biclique","Co-matching"],"range":["#5a3c5c","#2a8f9d","#f8a850","#acbe8f"]},"legend":{"orient":"none","legendX":714,"legendY":349,"title":null,"symbolType":"circle","symbolSize":154,"symbolOpacity":0.6,"labelOffset":21,"symbolOffset":11,"rowPadding":7,"padding":7}},
"size":{"field":"d","type":"quantitative","scale":{"type":"linear","domain":[0,25,100],"range":[6,78,254]},"legend":{"orient":"none","legendX":9,"legendY":3,"title":null,"values":[1,25,100],"symbolType":"circle","symbolFillColor":"#cfcfcf","symbolStrokeWidth":0,"symbolOpacity":1,"labelExpr":"'d = '+datum.value","labelOffset":23,"symbolOffset":7,"rowPadding":6,"padding":8}}
},
"layer":[
{"data":{"name":"timeouts"},"mark":{"type":"point","filled":true,"opacity":0.25,"shape":"M-1.128,-1.128L1.128,-1.128L0,1.128Z"}},
{"data":{"name":"finished"},"mark":{"type":"point","filled":true,"opacity":0.6,"shape":"circle"}},
{"data":{"name":"axisline"},"mark":{"type":"rule"},"encoding":{"y2":{"field":"t2"},"color":{"value":"#111"},"size":{"value":1.2}}}
]}
